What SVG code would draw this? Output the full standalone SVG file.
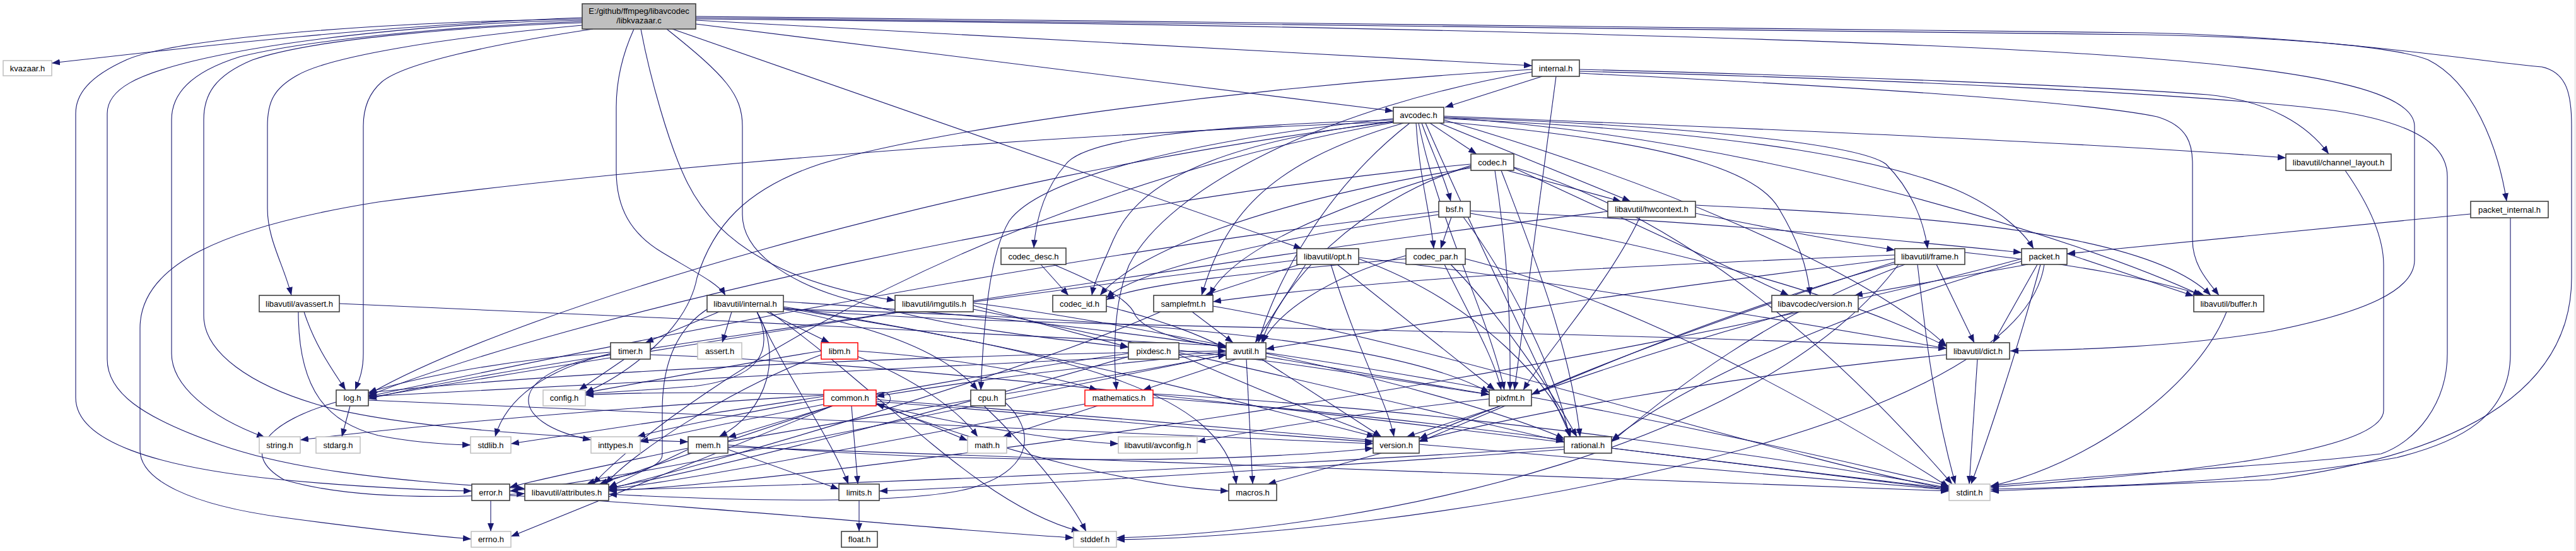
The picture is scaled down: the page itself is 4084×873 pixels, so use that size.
<svg xmlns="http://www.w3.org/2000/svg" width="4084" height="873" viewBox="0 0 4084 873">
<defs>
<marker id="arr" viewBox="0 0 13 10" refX="13" refY="5" markerWidth="13" markerHeight="10" orient="auto" markerUnits="userSpaceOnUse"><path d="M0,0L13,5L0,10z" fill="#191970"/></marker>
<style>
.e path{fill:none;stroke:#191970;stroke-width:1.1;marker-end:url(#arr)}
.n rect{fill:#fff;stroke:#404040;stroke-width:1.6}
.x rect{fill:#fff;stroke:#bfbfbf;stroke-width:1.5}
.r rect{fill:#fff;stroke:#ff0000;stroke-width:1.5}
.root rect{fill:#bfbfbf;stroke:#404040;stroke-width:1.6}
text{font-family:"Liberation Sans",Arial,sans-serif;font-size:13px;fill:#000;text-anchor:middle}
</style>
</defs>
<rect width="4084" height="873" fill="#fff"/>
<line x1="4082.5" y1="0" x2="4082.5" y2="873" stroke="#d3d3d3" stroke-width="1"/>
<g id="edges" class="e">
<path d="M923,28 C600,40 300,75 82,100"/>
<path d="M923,30 C600,35 280,60 200,95 C140,122 120,150 120,180 L120,630 C120,700 250,740 436,759 C550,770 650,776 748,778"/>
<path d="M923,32 C700,36 450,62 305,97 C220,118 170,140 170,180 L170,569 C170,620 220,660 350,705 C450,740 600,762 832,774"/>
<path d="M923,34 C750,40 500,60 380,90 C300,115 272,150 272,190 L272,560 C272,610 330,660 420,693"/>
<path d="M923,36 C750,42 500,60 400,95 C340,120 323,150 323,190 L323,500 C323,560 400,610 500,640 C600,670 800,690 1091,700"/>
<path d="M923,40 C700,60 520,90 470,120 C435,140 424,160 424,200 L424,330 C424,380 450,420 462,468"/>
<path d="M940,46 C780,70 640,100 605,130 C582,150 576,175 576,200 L576,560 C576,590 568,605 563,618"/>
<path d="M1005,46 C985,90 977,130 977,170 L977,270 C977,330 1000,370 1050,400 C1100,430 1140,450 1150,468"/>
<path d="M1016,46 C1030,120 1060,230 1090,290 C1140,390 1250,450 1419,476"/>
<path d="M1057,46 C1150,120 1177,150 1177,200 L1177,340 C1177,400 1250,445 1330,470 C1500,520 1650,535 1789,550"/>
<path d="M1066,46 L2064,394"/>
<path d="M1103,38 L2209,176"/>
<path d="M1103,32 L2429,104"/>
<path d="M1103,28 L3400,55 C3650,60 3800,75 3850,95 C3920,130 3960,230 3974,319"/>
<path d="M1103,30 C2000,38 3000,60 3400,92 C3700,115 3828,150 3828,200 L3828,412 C3828,460 3750,495 3600,525 C3450,550 3300,554 3187,556"/>
<path d="M1103,26 L3400,52 C3700,58 3950,100 4030,106 C4070,115 4077,150 4077,200 L4077,440 C4077,620 3900,720 3600,760 L3156,778"/>
<path d="M2445,121 L2291,170"/>
<path d="M2504,110 C2900,120 3300,135 3500,150 C3600,160 3660,200 3692,244"/>
<path d="M2504,116 C2900,135 3300,160 3420,185 C3470,200 3476,230 3476,260 L3476,380 C3476,420 3500,445 3518,468"/>
<path d="M2504,113 C3000,125 3500,150 3700,175 C3830,195 3880,230 3880,280 L3880,560 C3880,640 3830,700 3775,719 C3600,740 3400,745 3156,770"/>
<path d="M2429,110 C2000,135 1500,200 1300,260 C1180,300 1130,360 1105,440 C1090,520 1000,590 928,622"/>
<path d="M2429,114 C2100,170 1850,300 1790,420 C1765,480 1765,560 1770,618"/>
<path d="M2467,121 L2401,618"/>
<path d="M2267,195 L2341,244"/>
<path d="M2254,195 C2270,240 2290,280 2300,319"/>
<path d="M2245,195 C2250,280 2268,340 2273,394"/>
<path d="M2282,195 L2585,319"/>
<path d="M2209,190 C1900,200 1720,220 1690,260 C1655,300 1642,350 1639,393"/>
<path d="M2209,192 C1900,230 1800,300 1765,380 C1748,420 1735,445 1731,468"/>
<path d="M2225,195 C2000,260 1940,350 1905,468"/>
<path d="M2235,195 C2100,300 2020,450 1995,543"/>
<path d="M2289,186 C2800,220 3300,380 3490,468"/>
<path d="M2209,188 C1900,220 1650,280 1600,350 C1570,400 1560,500 1555,618"/>
<path d="M2289,184 C2700,200 3300,225 3624,250"/>
<path d="M2289,190 C2600,280 2950,420 3086,548"/>
<path d="M2289,186 C2700,200 2950,230 2990,260 C3030,300 3050,350 3056,394"/>
<path d="M2289,188 C2800,210 3000,260 3100,300 C3170,330 3210,370 3224,394"/>
<path d="M2209,193 C1500,280 800,500 584,625"/>
<path d="M2249,195 C2280,350 2360,500 2385,618"/>
<path d="M2260,195 C2350,400 2450,600 2490,692"/>
<path d="M2209,193 C1500,220 900,280 600,320 C350,360 222,420 222,520 L222,713 C222,760 300,800 450,820 C600,840 700,850 747,854"/>
<path d="M2209,194 C1600,300 1100,600 940,767"/>
<path d="M2289,193 C2600,220 2780,260 2820,330 C2850,380 2865,420 2870,468"/>
<path d="M2400,265 C2700,350 2950,600 3095,767"/>
<path d="M2332,262 C2150,320 2030,450 2000,543"/>
<path d="M2389,270 L2570,319"/>
<path d="M2332,260 C1700,320 900,500 584,627"/>
<path d="M2370,270 C2390,400 2395,500 2394,618"/>
<path d="M2380,270 C2430,400 2490,550 2505,692"/>
<path d="M2332,264 C2100,330 1950,400 1918,468"/>
<path d="M2332,266 C2000,320 1800,400 1744,468"/>
<path d="M2400,266 L2836,468"/>
<path d="M2301,344 L2284,394"/>
<path d="M2331,334 C2700,350 3000,380 3205,400"/>
<path d="M2331,338 C2700,400 2950,480 3086,549"/>
<path d="M2281,335 C1700,400 1000,540 584,628"/>
<path d="M2320,344 C2400,450 2470,600 2488,692"/>
<path d="M2281,340 C2000,380 1800,430 1754,472"/>
<path d="M2323,410 C2600,480 2900,650 3090,772"/>
<path d="M2229,405 C2100,440 2020,500 2002,543"/>
<path d="M2300,419 C2380,500 2460,620 2500,692"/>
<path d="M2290,419 C2330,500 2370,570 2380,618"/>
<path d="M2229,410 C2000,430 1800,450 1754,475"/>
<path d="M1670,419 C1720,440 1790,470 1800,500 C1820,530 1900,545 1944,550"/>
<path d="M1650,419 L1694,468"/>
<path d="M1754,485 C1850,510 1900,530 1944,552"/>
<path d="M3241,419 C3200,700 2200,850 1770,855"/>
<path d="M3235,419 C3200,550 3150,700 3125,767"/>
<path d="M3205,410 C2500,600 1300,760 965,778"/>
<path d="M3277,402 L3478,469"/>
<path d="M3230,419 L3160,543"/>
<path d="M3205,414 C2900,500 2650,620 2555,698"/>
<path d="M3215,419 L2940,468"/>
<path d="M3980,345 L3980,560 C3980,660 3900,700 3800,725 C3600,760 3400,770 3156,775"/>
<path d="M3917,339 L3277,402"/>
<path d="M3010,419 C2800,700 2200,840 1770,852"/>
<path d="M3040,419 C3050,500 3060,620 3100,767"/>
<path d="M3004,410 C2600,460 2200,520 2007,553"/>
<path d="M3115,400 C3300,420 3400,440 3495,468"/>
<path d="M3070,419 L3130,543"/>
<path d="M3020,419 C2800,500 2650,620 2555,700"/>
<path d="M3004,404 C2600,420 2200,440 1923,478"/>
<path d="M3004,415 C2800,480 2550,570 2428,625"/>
<path d="M3004,418 C2700,500 2400,640 2250,700"/>
<path d="M2688,325 C3000,340 3400,360 3505,468"/>
<path d="M2688,338 C2800,360 2900,380 3004,396"/>
<path d="M2549,335 C2000,400 1000,560 584,630"/>
<path d="M2600,344 C2550,450 2450,560 2415,618"/>
<path d="M3530,494 C3480,620 3300,740 3156,770"/>
<path d="M3135,569 L3122,767"/>
<path d="M3086,562 C2700,600 2400,660 2250,698"/>
<path d="M3718,270 C3760,330 3779,380 3779,420 L3779,650 C3779,700 3600,740 3156,772"/>
<path d="M2154,410 C2350,480 2470,620 2490,692"/>
<path d="M2070,419 L1990,543"/>
<path d="M2154,408 C2500,450 2900,520 3086,552"/>
<path d="M2056,412 C1500,480 800,580 584,632"/>
<path d="M2120,419 L2370,618"/>
<path d="M2060,419 L1910,468"/>
<path d="M2110,419 C2150,550 2200,640 2210,692"/>
<path d="M1923,485 C2300,550 2800,720 3090,775"/>
<path d="M1890,494 L1955,543"/>
<path d="M1840,494 C1600,600 1100,740 965,775"/>
<path d="M1944,560 C1700,580 1500,610 1389,628"/>
<path d="M1944,562 C1500,650 1000,760 808,778"/>
<path d="M2007,560 C2200,600 2400,660 2480,695"/>
<path d="M2000,569 L2190,692"/>
<path d="M1976,569 L1986,767"/>
<path d="M1960,569 L1812,618"/>
<path d="M1944,558 C1500,580 900,610 584,628"/>
<path d="M2007,565 L2361,625"/>
<path d="M1320,643 L810,850"/>
<path d="M1306,632 C1200,650 1050,680 1010,692"/>
<path d="M1350,643 L1360,767"/>
<path d="M1389,638 L1534,698"/>
<path d="M1389,633 C2000,680 2700,740 3090,776"/>
<path d="M1306,628 C1100,660 900,690 810,703"/>
<path d="M1306,626 C1000,645 700,670 476,697"/>
<path d="M1320,643 C1150,700 1000,750 950,767"/>
<path d="M1389,640 C1600,720 1800,770 1948,778"/>
<path d="M1389,636 C1700,660 2000,690 2177,700"/>
<path d="M1389,641 C1550,680 1700,700 1773,703"/>
<path d="M1306,625 C1100,620 1000,622 928,626"/>
<path d="M1320,643 L1154,693"/>
<path d="M1389,624 C1418,612 1420,650 1389,640"/>
<path d="M555,643 L542,692"/>
<path d="M584,622 C1000,580 1600,560 1944,556"/>
<path d="M533,637 C420,670 380,720 450,760 C550,790 700,790 832,782"/>
<path d="M584,634 C1200,660 1800,690 2177,703"/>
<path d="M1154,712 L1330,775"/>
<path d="M1154,708 C1800,730 2600,760 3090,778"/>
<path d="M1091,712 L965,772"/>
<path d="M1091,710 C950,740 850,760 808,772"/>
<path d="M1154,700 C1500,640 1800,590 1944,562"/>
<path d="M1154,705 C1600,740 2000,730 2177,710"/>
<path d="M778,793 L778,842"/>
<path d="M808,785 C1100,800 1500,840 1702,852"/>
<path d="M2555,710 C2800,740 3000,765 3090,776"/>
<path d="M2480,712 C2100,740 1600,770 1394,778"/>
<path d="M2480,708 C2000,740 1300,770 965,776"/>
<path d="M2190,718 L2010,767"/>
<path d="M2361,632 C2100,660 1950,690 1898,700"/>
<path d="M2380,643 L2230,692"/>
<path d="M1828,624 C2300,650 2800,720 3090,773"/>
<path d="M1740,643 L1590,692"/>
<path d="M1720,640 C1400,700 1100,760 965,775"/>
<path d="M1828,630 C2100,650 2350,680 2480,697"/>
<path d="M1789,560 C1500,600 1200,660 1015,700"/>
<path d="M1789,565 C1500,650 1100,750 965,773"/>
<path d="M1869,555 C2100,580 2250,610 2361,625"/>
<path d="M1869,562 C2000,620 2150,680 2190,692"/>
<path d="M1543,480 C1700,500 1850,530 1944,548"/>
<path d="M1543,484 L1789,550"/>
<path d="M1543,490 C1900,560 2300,660 2480,700"/>
<path d="M473,494 C473,620 520,670 600,690 C650,700 700,704 746,705"/>
<path d="M538,481 C1000,500 1600,530 1944,548"/>
<path d="M482,494 C500,550 530,590 548,618"/>
<path d="M1560,643 C1620,700 1690,780 1722,842"/>
<path d="M1594,638 C1640,680 1640,740 1550,770 C1450,805 1100,790 965,783"/>
<path d="M990,569 L918,618"/>
<path d="M968,560 C850,590 800,640 785,692"/>
<path d="M968,562 C800,590 800,670 937,697"/>
<path d="M1031,562 C1600,580 2600,720 3090,774"/>
<path d="M968,558 C800,570 650,600 584,622"/>
<path d="M1360,565 C1450,600 1520,650 1550,692"/>
<path d="M1302,556 C1150,580 1000,610 928,622"/>
<path d="M1302,562 C1150,620 1000,720 960,767"/>
<path d="M1360,556 C1550,570 1680,600 1740,618"/>
<path d="M1200,494 C1250,600 1320,700 1345,767"/>
<path d="M1242,478 C2000,520 2800,700 3090,770"/>
<path d="M1220,494 C1400,620 1550,800 1712,842"/>
<path d="M1160,494 L1145,543"/>
<path d="M1200,494 C1230,560 1200,600 1100,612 C1000,620 950,622 928,624"/>
<path d="M1121,490 C1060,530 1050,600 1050,650 L1050,720 C1050,750 950,760 930,767"/>
<path d="M1140,494 L1023,543"/>
<path d="M1242,490 C1400,520 1500,560 1550,618"/>
<path d="M1242,488 C1500,520 2500,520 3086,552"/>
<path d="M1242,488 C1700,560 1940,620 1960,767"/>
<path d="M1200,494 C1240,560 1220,650 1140,692"/>
<path d="M1242,490 C1700,500 2200,530 2361,622"/>
<path d="M1242,486 C1700,560 2050,660 2180,692"/>
<path d="M1215,494 L1315,543"/>
<path d="M1362,793 L1362,842"/>
<path d="M2846,494 C2600,560 2350,650 2250,695"/>
</g>
<g id="node-root" class="root"><rect x="923" y="6" width="180" height="40"/><text x="1013" y="22">E:/github/ffmpeg/libavcodec</text><text x="1013" y="37">/libkvazaar.c</text></g>
<g id="node-kvazaar" class="x"><rect x="5" y="96" width="77" height="24"/><text x="43.5" y="112.5">kvazaar.h</text></g>
<g id="node-internal" class="n"><rect x="2429" y="95" width="75" height="26"/><text x="2466.5" y="112.5">internal.h</text></g>
<g id="node-avcodec" class="n"><rect x="2209" y="170" width="80" height="25"/><text x="2249" y="187">avcodec.h</text></g>
<g id="node-codec" class="n"><rect x="2332" y="244" width="68" height="26"/><text x="2366" y="261.5">codec.h</text></g>
<g id="node-channel_layout" class="n"><rect x="3624" y="244" width="167" height="26"/><text x="3707.5" y="261.5">libavutil/channel_layout.h</text></g>
<g id="node-bsf" class="n"><rect x="2281" y="319" width="50" height="25"/><text x="2306" y="336">bsf.h</text></g>
<g id="node-hwcontext" class="n"><rect x="2549" y="319" width="139" height="25"/><text x="2618.5" y="336">libavutil/hwcontext.h</text></g>
<g id="node-packet_internal" class="n"><rect x="3917" y="319" width="123" height="26"/><text x="3978.5" y="336.5">packet_internal.h</text></g>
<g id="node-codec_desc" class="n"><rect x="1587" y="393" width="103" height="26"/><text x="1638.5" y="410.5">codec_desc.h</text></g>
<g id="node-opt" class="n"><rect x="2056" y="394" width="98" height="25"/><text x="2105" y="411">libavutil/opt.h</text></g>
<g id="node-codec_par" class="n"><rect x="2229" y="394" width="94" height="25"/><text x="2276" y="411">codec_par.h</text></g>
<g id="node-frame" class="n"><rect x="3004" y="394" width="111" height="25"/><text x="3059.5" y="411">libavutil/frame.h</text></g>
<g id="node-packet" class="n"><rect x="3205" y="394" width="72" height="25"/><text x="3241" y="411">packet.h</text></g>
<g id="node-avassert" class="n"><rect x="411" y="468" width="127" height="26"/><text x="474.5" y="485.5">libavutil/avassert.h</text></g>
<g id="node-lavu_internal" class="n"><rect x="1121" y="468" width="121" height="26"/><text x="1181.5" y="485.5">libavutil/internal.h</text></g>
<g id="node-imgutils" class="n"><rect x="1419" y="468" width="124" height="26"/><text x="1481" y="485.5">libavutil/imgutils.h</text></g>
<g id="node-codec_id" class="n"><rect x="1669" y="468" width="85" height="26"/><text x="1711.5" y="485.5">codec_id.h</text></g>
<g id="node-samplefmt" class="n"><rect x="1829" y="468" width="94" height="26"/><text x="1876" y="485.5">samplefmt.h</text></g>
<g id="node-lavc_version" class="n"><rect x="2809" y="468" width="137" height="26"/><text x="2877.5" y="485.5">libavcodec/version.h</text></g>
<g id="node-buffer" class="n"><rect x="3478" y="468" width="111" height="26"/><text x="3533.5" y="485.5">libavutil/buffer.h</text></g>
<g id="node-timer" class="n"><rect x="968" y="543" width="63" height="26"/><text x="999.5" y="560.5">timer.h</text></g>
<g id="node-assert" class="x"><rect x="1106" y="543" width="70" height="26"/><text x="1141" y="560.5">assert.h</text></g>
<g id="node-libm" class="r"><rect x="1302" y="543" width="58" height="26"/><text x="1331" y="560.5">libm.h</text></g>
<g id="node-pixdesc" class="n"><rect x="1789" y="543" width="80" height="26"/><text x="1829" y="560.5">pixdesc.h</text></g>
<g id="node-avutil" class="n"><rect x="1944" y="543" width="63" height="26"/><text x="1975.5" y="560.5">avutil.h</text></g>
<g id="node-dict" class="n"><rect x="3086" y="543" width="100" height="26"/><text x="3136" y="560.5">libavutil/dict.h</text></g>
<g id="node-log" class="n"><rect x="533" y="618" width="51" height="25"/><text x="558.5" y="635">log.h</text></g>
<g id="node-config" class="x"><rect x="861" y="618" width="67" height="25"/><text x="894.5" y="635">config.h</text></g>
<g id="node-common" class="r"><rect x="1306" y="618" width="83" height="25"/><text x="1347.5" y="635">common.h</text></g>
<g id="node-cpu" class="n"><rect x="1539" y="618" width="55" height="25"/><text x="1566.5" y="635">cpu.h</text></g>
<g id="node-mathematics" class="r"><rect x="1720" y="618" width="108" height="25"/><text x="1774" y="635">mathematics.h</text></g>
<g id="node-pixfmt" class="n"><rect x="2361" y="618" width="67" height="25"/><text x="2394.5" y="635">pixfmt.h</text></g>
<g id="node-string" class="x"><rect x="411" y="692" width="65" height="26"/><text x="443.5" y="709.5">string.h</text></g>
<g id="node-stdarg" class="x"><rect x="501" y="692" width="70" height="26"/><text x="536" y="709.5">stdarg.h</text></g>
<g id="node-stdlib" class="x"><rect x="746" y="692" width="64" height="26"/><text x="778" y="709.5">stdlib.h</text></g>
<g id="node-inttypes" class="x"><rect x="937" y="692" width="78" height="26"/><text x="976" y="709.5">inttypes.h</text></g>
<g id="node-mem" class="n"><rect x="1091" y="692" width="63" height="26"/><text x="1122.5" y="709.5">mem.h</text></g>
<g id="node-math" class="x"><rect x="1534" y="692" width="62" height="26"/><text x="1565" y="709.5">math.h</text></g>
<g id="node-avconfig" class="x"><rect x="1773" y="692" width="125" height="26"/><text x="1835.5" y="709.5">libavutil/avconfig.h</text></g>
<g id="node-version" class="n"><rect x="2177" y="692" width="73" height="26"/><text x="2213.5" y="709.5">version.h</text></g>
<g id="node-rational" class="n"><rect x="2480" y="692" width="75" height="26"/><text x="2517.5" y="709.5">rational.h</text></g>
<g id="node-error" class="n"><rect x="748" y="767" width="60" height="26"/><text x="778" y="784.5">error.h</text></g>
<g id="node-attributes" class="n"><rect x="832" y="767" width="133" height="26"/><text x="898.5" y="784.5">libavutil/attributes.h</text></g>
<g id="node-limits" class="n"><rect x="1330" y="767" width="64" height="26"/><text x="1362" y="784.5">limits.h</text></g>
<g id="node-macros" class="n"><rect x="1948" y="767" width="76" height="26"/><text x="1986" y="784.5">macros.h</text></g>
<g id="node-stdint" class="x"><rect x="3090" y="767" width="65" height="26"/><text x="3122.5" y="784.5">stdint.h</text></g>
<g id="node-errno" class="x"><rect x="747" y="842" width="63" height="25"/><text x="778.5" y="859">errno.h</text></g>
<g id="node-float" class="n"><rect x="1334" y="842" width="57" height="25"/><text x="1362.5" y="859">float.h</text></g>
<g id="node-stddef" class="x"><rect x="1702" y="842" width="68" height="25"/><text x="1736" y="859">stddef.h</text></g>
</svg>
